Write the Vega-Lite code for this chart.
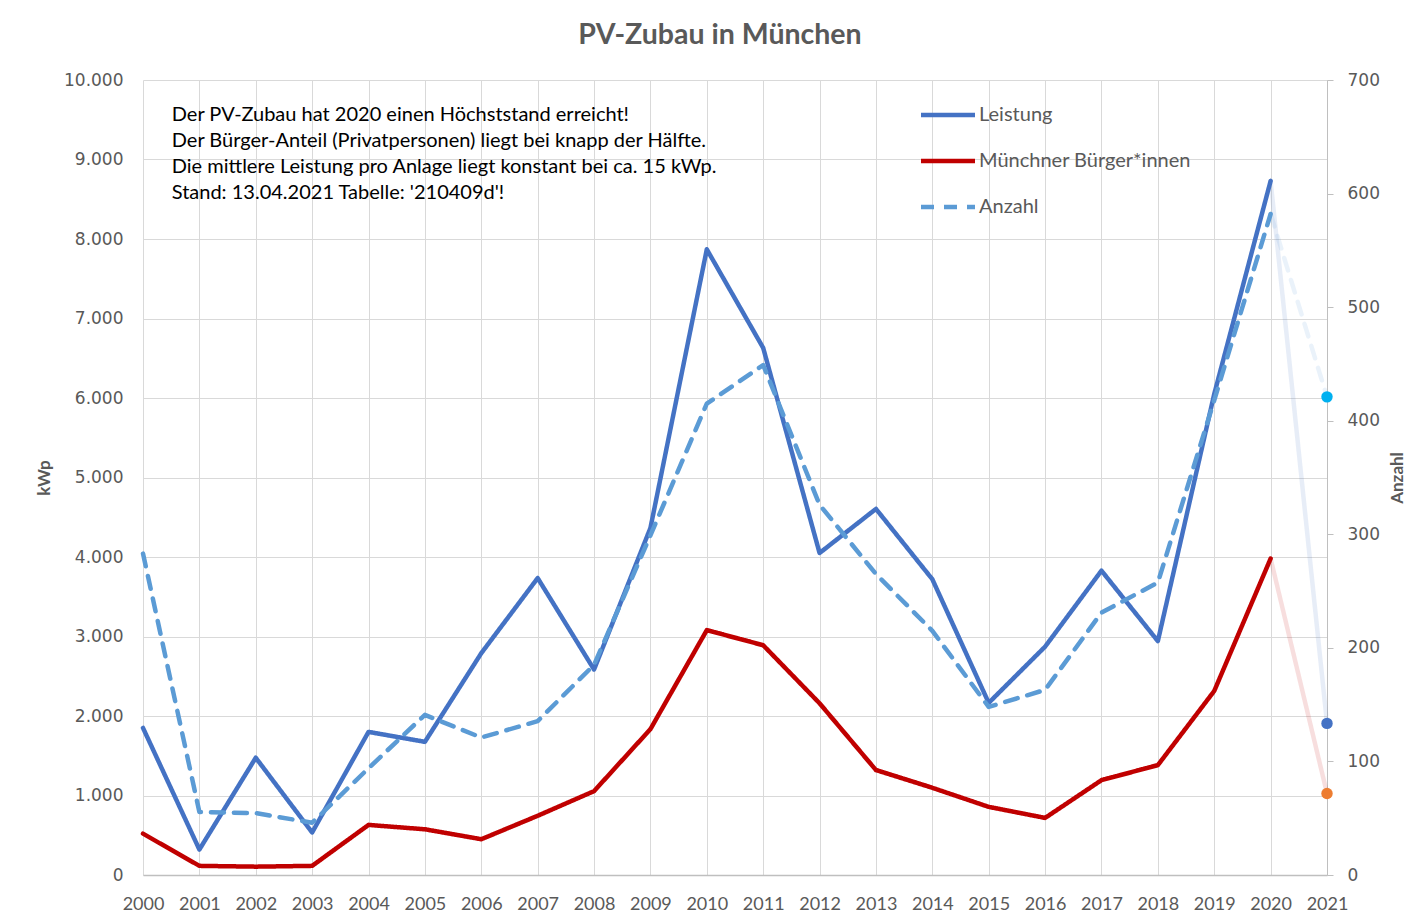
{
  "$schema": "https://vega.github.io/schema/vega-lite/v6.json",
  "width": 1184,
  "height": 795,
  "autosize": {"type": "none"},
  "padding": {"left": 143, "top": 80, "right": 100, "bottom": 44},
  "background": "white",
  "config": {
    "locale": {"number": {"decimal": ",", "thousands": ".", "grouping": [3], "currency": ["", " €"]}},
    "view": {"stroke": null},
    "font": "Lato"
  },
  "title": {"text": "PV-Zubau in München", "fontSize": 28.5, "font": "Lato", "fontWeight": "bold", "color": "#595959", "offset": 22, "dx": -15},
  "data": {"values": [
    {"Jahr": 2000, "Reihe": "Leistung", "Wert": 1850},
    {"Jahr": 2001, "Reihe": "Leistung", "Wert": 320},
    {"Jahr": 2002, "Reihe": "Leistung", "Wert": 1475},
    {"Jahr": 2003, "Reihe": "Leistung", "Wert": 535},
    {"Jahr": 2004, "Reihe": "Leistung", "Wert": 1800},
    {"Jahr": 2005, "Reihe": "Leistung", "Wert": 1675},
    {"Jahr": 2006, "Reihe": "Leistung", "Wert": 2790},
    {"Jahr": 2007, "Reihe": "Leistung", "Wert": 3735},
    {"Jahr": 2008, "Reihe": "Leistung", "Wert": 2585},
    {"Jahr": 2009, "Reihe": "Leistung", "Wert": 4365},
    {"Jahr": 2010, "Reihe": "Leistung", "Wert": 7870},
    {"Jahr": 2011, "Reihe": "Leistung", "Wert": 6630},
    {"Jahr": 2012, "Reihe": "Leistung", "Wert": 4050},
    {"Jahr": 2013, "Reihe": "Leistung", "Wert": 4605},
    {"Jahr": 2014, "Reihe": "Leistung", "Wert": 3720},
    {"Jahr": 2015, "Reihe": "Leistung", "Wert": 2165},
    {"Jahr": 2016, "Reihe": "Leistung", "Wert": 2872},
    {"Jahr": 2017, "Reihe": "Leistung", "Wert": 3828},
    {"Jahr": 2018, "Reihe": "Leistung", "Wert": 2942},
    {"Jahr": 2019, "Reihe": "Leistung", "Wert": 6050},
    {"Jahr": 2020, "Reihe": "Leistung", "Wert": 8730},
    {"Jahr": 2021, "Reihe": "Leistung", "Wert": 1907},
    {"Jahr": 2000, "Reihe": "Münchner Bürger*innen", "Wert": 520},
    {"Jahr": 2001, "Reihe": "Münchner Bürger*innen", "Wert": 115},
    {"Jahr": 2002, "Reihe": "Münchner Bürger*innen", "Wert": 105},
    {"Jahr": 2003, "Reihe": "Münchner Bürger*innen", "Wert": 115},
    {"Jahr": 2004, "Reihe": "Münchner Bürger*innen", "Wert": 630},
    {"Jahr": 2005, "Reihe": "Münchner Bürger*innen", "Wert": 575},
    {"Jahr": 2006, "Reihe": "Münchner Bürger*innen", "Wert": 450},
    {"Jahr": 2007, "Reihe": "Münchner Bürger*innen", "Wert": 745},
    {"Jahr": 2008, "Reihe": "Münchner Bürger*innen", "Wert": 1055},
    {"Jahr": 2009, "Reihe": "Münchner Bürger*innen", "Wert": 1835},
    {"Jahr": 2010, "Reihe": "Münchner Bürger*innen", "Wert": 3080},
    {"Jahr": 2011, "Reihe": "Münchner Bürger*innen", "Wert": 2890},
    {"Jahr": 2012, "Reihe": "Münchner Bürger*innen", "Wert": 2160},
    {"Jahr": 2013, "Reihe": "Münchner Bürger*innen", "Wert": 1320},
    {"Jahr": 2014, "Reihe": "Münchner Bürger*innen", "Wert": 1097},
    {"Jahr": 2015, "Reihe": "Münchner Bürger*innen", "Wert": 857},
    {"Jahr": 2016, "Reihe": "Münchner Bürger*innen", "Wert": 718},
    {"Jahr": 2017, "Reihe": "Münchner Bürger*innen", "Wert": 1193},
    {"Jahr": 2018, "Reihe": "Münchner Bürger*innen", "Wert": 1382},
    {"Jahr": 2019, "Reihe": "Münchner Bürger*innen", "Wert": 2315},
    {"Jahr": 2020, "Reihe": "Münchner Bürger*innen", "Wert": 3980},
    {"Jahr": 2021, "Reihe": "Münchner Bürger*innen", "Wert": 1026},
    {"Jahr": 2000, "Reihe": "Anzahl", "Wert": 283},
    {"Jahr": 2001, "Reihe": "Anzahl", "Wert": 55.5},
    {"Jahr": 2002, "Reihe": "Anzahl", "Wert": 54.5},
    {"Jahr": 2003, "Reihe": "Anzahl", "Wert": 46},
    {"Jahr": 2004, "Reihe": "Anzahl", "Wert": 94},
    {"Jahr": 2005, "Reihe": "Anzahl", "Wert": 141},
    {"Jahr": 2006, "Reihe": "Anzahl", "Wert": 121},
    {"Jahr": 2007, "Reihe": "Anzahl", "Wert": 135.5},
    {"Jahr": 2008, "Reihe": "Anzahl", "Wert": 185},
    {"Jahr": 2009, "Reihe": "Anzahl", "Wert": 299},
    {"Jahr": 2010, "Reihe": "Anzahl", "Wert": 415},
    {"Jahr": 2011, "Reihe": "Anzahl", "Wert": 449},
    {"Jahr": 2012, "Reihe": "Anzahl", "Wert": 326},
    {"Jahr": 2013, "Reihe": "Anzahl", "Wert": 265},
    {"Jahr": 2014, "Reihe": "Anzahl", "Wert": 215},
    {"Jahr": 2015, "Reihe": "Anzahl", "Wert": 148},
    {"Jahr": 2016, "Reihe": "Anzahl", "Wert": 163},
    {"Jahr": 2017, "Reihe": "Anzahl", "Wert": 231},
    {"Jahr": 2018, "Reihe": "Anzahl", "Wert": 257.5},
    {"Jahr": 2019, "Reihe": "Anzahl", "Wert": 418},
    {"Jahr": 2020, "Reihe": "Anzahl", "Wert": 582},
    {"Jahr": 2021, "Reihe": "Anzahl", "Wert": 421}
  ]},
  "layer": [
    {
      "encoding": {
        "x": {
          "field": "Jahr", "type": "quantitative",
          "scale": {"domain": [2000, 2021], "nice": false, "zero": false},
          "axis": {
            "title": null,
            "values": [2000, 2001, 2002, 2003, 2004, 2005, 2006, 2007, 2008, 2009, 2010, 2011, 2012, 2013, 2014, 2015, 2016, 2017, 2018, 2019, 2020, 2021],
            "format": "d", "grid": true, "gridColor": "#D9D9D9", "gridWidth": 1,
            "ticks": false, "domain": true, "domainColor": "#BFBFBF", "domainWidth": 1.5,
            "labelFont": "Lato", "labelFontSize": 18, "labelColor": "#595959", "labelPadding": 20, "labelFlush": false
          }
        },
        "y": {
          "field": "Wert", "type": "quantitative",
          "scale": {"domain": [0, 10000], "nice": false},
          "axis": {
            "orient": "left", "title": "kWp",
            "values": [0, 1000, 2000, 3000, 4000, 5000, 6000, 7000, 8000, 9000, 10000],
            "format": ",d", "grid": true, "gridColor": "#D9D9D9", "gridWidth": 1,
            "ticks": false, "domain": false,
            "labelFont": "DejaVu Sans", "labelFontSize": 17, "labelColor": "#595959", "labelPadding": 20,
            "titleFont": "Lato", "titleFontSize": 17, "titleFontWeight": "bold", "titleColor": "#595959", "titlePadding": 10
          }
        }
      },
      "layer": [
        {
          "transform": [{"filter": "datum.Reihe !== 'Anzahl' && datum.Jahr <= 2020"}],
          "mark": {"type": "line", "strokeWidth": 4.5, "strokeCap": "round", "strokeJoin": "round"},
          "encoding": {
            "color": {
              "field": "Reihe", "type": "nominal",
              "scale": {"domain": ["Leistung", "Münchner Bürger*innen", "Anzahl"], "range": ["#4472C4", "#C00000", "#5B9BD5"]},
              "legend": {"title": null, "orient": "none", "legendX": 789, "legendY": 19, "symbolType": "M-2,0H2", "symbolSize": 729, "symbolStrokeWidth": 4.5, "labelFont": "Lato", "labelFontSize": 20, "labelColor": "#595959", "labelOffset": 15, "labelLimit": 0, "rowPadding": 20, "padding": 0}
            },
            "strokeDash": {
              "field": "Reihe", "type": "nominal",
              "scale": {"domain": ["Leistung", "Münchner Bürger*innen", "Anzahl"], "range": [[1, 0], [1, 0], [13, 10]]},
              "legend": {"title": null, "orient": "none", "legendX": 789, "legendY": 19, "symbolType": "M-2,0H2", "symbolSize": 729, "symbolStrokeWidth": 4.5, "labelFont": "Lato", "labelFontSize": 20, "labelColor": "#595959", "labelOffset": 15, "labelLimit": 0, "rowPadding": 20, "padding": 0}
            }
          }
        },
        {
          "transform": [{"filter": "datum.Reihe !== 'Anzahl' && datum.Jahr >= 2020"}],
          "mark": {"type": "line", "strokeWidth": 4.5, "strokeCap": "round", "strokeJoin": "round", "opacity": 0.13},
          "encoding": {
            "color": {"field": "Reihe", "type": "nominal", "legend": null},
            "strokeDash": {"field": "Reihe", "type": "nominal", "legend": null}
          }
        },
        {
          "transform": [{"filter": "datum.Reihe === 'Leistung' && datum.Jahr === 2021"}],
          "mark": {"type": "point", "filled": true, "size": 130, "opacity": 1, "color": "#4472C4"}
        },
        {
          "transform": [{"filter": "datum.Reihe === 'Münchner Bürger*innen' && datum.Jahr === 2021"}],
          "mark": {"type": "point", "filled": true, "size": 130, "opacity": 1, "color": "#ED7D31"}
        }
      ]
    },
    {
      "transform": [{"filter": "datum.Reihe === 'Anzahl'"}],
      "encoding": {
        "x": {
          "field": "Jahr", "type": "quantitative",
          "scale": {"domain": [2000, 2021], "nice": false, "zero": false},
          "axis": {
            "title": null,
            "values": [2000, 2001, 2002, 2003, 2004, 2005, 2006, 2007, 2008, 2009, 2010, 2011, 2012, 2013, 2014, 2015, 2016, 2017, 2018, 2019, 2020, 2021],
            "format": "d", "grid": true, "gridColor": "#D9D9D9", "gridWidth": 1,
            "ticks": false, "domain": true, "domainColor": "#BFBFBF", "domainWidth": 1.5,
            "labelFont": "Lato", "labelFontSize": 18, "labelColor": "#595959", "labelPadding": 20, "labelFlush": false
          }
        },
        "y": {
          "field": "Wert", "type": "quantitative",
          "scale": {"domain": [0, 700], "nice": false},
          "axis": {
            "orient": "right", "title": "Anzahl",
            "values": [0, 100, 200, 300, 400, 500, 600, 700],
            "format": "d", "grid": false,
            "ticks": true, "tickSize": 6, "tickColor": "#BFBFBF", "domain": true, "domainColor": "#BFBFBF",
            "labelFont": "DejaVu Sans", "labelFontSize": 17, "labelColor": "#595959", "labelPadding": 14,
            "titleFont": "Lato", "titleFontSize": 17, "titleFontWeight": "bold", "titleColor": "#595959", "titlePadding": 10,
            "titleAngle": 270, "titleBaseline": "top"
          }
        }
      },
      "layer": [
        {
          "transform": [{"filter": "datum.Jahr <= 2020"}],
          "mark": {"type": "line", "strokeWidth": 4.5, "strokeCap": "round", "strokeJoin": "round"},
          "encoding": {
            "color": {"field": "Reihe", "type": "nominal"},
            "strokeDash": {"field": "Reihe", "type": "nominal"}
          }
        },
        {
          "transform": [{"filter": "datum.Jahr >= 2020"}],
          "mark": {"type": "line", "strokeWidth": 4.5, "strokeCap": "round", "strokeJoin": "round", "opacity": 0.13},
          "encoding": {
            "color": {"field": "Reihe", "type": "nominal", "legend": null},
            "strokeDash": {"field": "Reihe", "type": "nominal", "legend": null}
          }
        },
        {
          "transform": [{"filter": "datum.Jahr === 2021"}],
          "mark": {"type": "point", "filled": true, "size": 130, "opacity": 1, "color": "#00B0F0"}
        }
      ]
    },
    {
      "data": {"values": [{"Hinweis": "Der PV-Zubau hat 2020 einen Höchststand erreicht!\nDer Bürger-Anteil (Privatpersonen) liegt bei knapp der Hälfte.\nDie mittlere Leistung pro Anlage liegt konstant bei ca. 15 kWp.\nStand: 13.04.2021 Tabelle: '210409d'!"}]},
      "mark": {"type": "text", "align": "left", "baseline": "top", "font": "Lato", "fontSize": 20, "lineHeight": 26, "lineBreak": "\n", "fill": "#000000"},
      "encoding": {
        "x": {"datum": 2000.51, "type": "quantitative"},
        "y": {"datum": 9690, "type": "quantitative", "scale": {"domain": [0, 10000], "nice": false}, "axis": null},
        "text": {"field": "Hinweis", "type": "nominal"}
      }
    }
  ],
  "resolve": {"scale": {"y": "independent"}}
}
